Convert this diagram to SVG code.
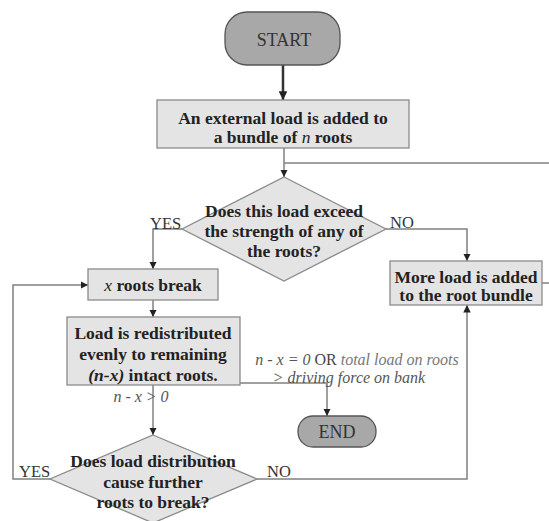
<svg xmlns="http://www.w3.org/2000/svg" width="549" height="521" viewBox="0 0 549 521">
<style>
.box{fill:#e4e4e4;stroke:#8a8a8a;stroke-width:1.3}
.term{fill:#a8a8a8;stroke:#555;stroke-width:1.3}
.t{font-family:"Liberation Serif",serif;font-size:17.5px;font-weight:bold;fill:#222;text-anchor:middle}
.tt{font-family:"Liberation Serif",serif;font-size:18px;fill:#333;text-anchor:middle}
.lbl{font-family:"Liberation Serif",serif;font-size:16.5px;fill:#333}
.cond{font-family:"Liberation Serif",serif;font-size:16px;font-style:italic;fill:#555}
.c{fill:none;stroke:#808080;stroke-width:1.5}
</style>
<defs>
<marker id="ah" viewBox="0 0 10 10" refX="10" refY="5" markerWidth="5" markerHeight="5" orient="auto" markerUnits="strokeWidth">
<path d="M0,0 L10,5 L0,10 z" fill="#222"/>
</marker>
<marker id="ahs" viewBox="0 0 10 10" refX="10" refY="5" markerWidth="3.5" markerHeight="3.5" orient="auto" markerUnits="strokeWidth">
<path d="M0,0 L10,5 L0,10 z" fill="#222"/>
</marker>
</defs>
<g id="connectors">
<line x1="283" y1="65" x2="283" y2="100" stroke="#333" stroke-width="2.5" marker-end="url(#ahs)"/>
<path class="c" d="M284,148 L284,177" marker-end="url(#ah)"/>
<path class="c" d="M284,163 L549,163"/>
<path class="c" d="M542,283 L549,283"/>
<path class="c" d="M182,229 L153,229 L153,269" marker-end="url(#ah)"/>
<path class="c" d="M386,229 L467,229 L467,261" marker-end="url(#ah)"/>
<path class="c" d="M153,300 L153,317" marker-end="url(#ah)"/>
<path class="c" d="M153,385 L153,435" marker-end="url(#ah)"/>
<path class="c" d="M240,383 L327,383 L327,416" marker-end="url(#ah)"/>
<path class="c" d="M50,479 L13,479 L13,285 L88,285" marker-end="url(#ah)"/>
<path class="c" d="M257,479 L467,479 L467,305" marker-end="url(#ah)"/>
</g>
<g id="start">
<rect class="term" x="225" y="12" width="115" height="53" rx="22" ry="22"/>
<text class="tt" x="284" y="46">START</text>
</g>
<g id="load-added">
<rect class="box" x="157" y="100" width="252" height="48"/>
<text class="t" x="283" y="124">An external load is added to</text>
<text class="t" x="283" y="143">a bundle of <tspan font-style="italic" font-weight="normal">n</tspan> roots</text>
</g>
<g id="decision-exceed">
<polygon class="box" points="284,177 386,229 284,281 182,229"/>
<text class="t" x="284" y="217">Does this load exceed</text>
<text class="t" x="284" y="237">the strength of any of</text>
<text class="t" x="284" y="257">the roots?</text>
</g>
<g id="x-roots-break">
<rect class="box" x="88" y="269" width="130" height="31"/>
<text class="t" x="153" y="291"><tspan font-style="italic" font-weight="normal">x</tspan> roots break</text>
</g>
<g id="more-load">
<rect class="box" x="390" y="261" width="152" height="44"/>
<text class="t" x="466" y="283">More load is added</text>
<text class="t" x="466" y="301">to the root bundle</text>
</g>
<g id="redistributed">
<rect class="box" x="67" y="317" width="173" height="68"/>
<text class="t" x="153" y="339">Load is redistributed</text>
<text class="t" x="153" y="360">evenly to remaining</text>
<text class="t" x="153" y="381"><tspan font-style="italic">(n-x)</tspan> intact roots.</text>
</g>
<g id="end">
<rect class="term" x="298" y="416" width="78" height="31" rx="15" ry="15"/>
<text class="tt" x="337" y="438">END</text>
</g>
<g id="decision-further">
<polygon class="box" points="153,435 257,479 153,523 50,479"/>
<text class="t" x="153" y="467">Does load distribution</text>
<text class="t" x="153" y="488">cause further</text>
<text class="t" x="153" y="508">roots to break?</text>
</g>
<g id="labels">
<text class="lbl" x="150" y="229">YES</text>
<text class="lbl" x="390" y="228">NO</text>
<text class="lbl" x="19" y="477">YES</text>
<text class="lbl" x="267" y="477">NO</text>
<text class="cond" x="141" y="402" text-anchor="middle">n - x &gt; 0</text>
<text class="cond" x="357" y="365" text-anchor="middle">n - x = 0 <tspan font-style="normal" fill="#444">OR</tspan> <tspan fill="#777">total load on roots</tspan></text>
<text class="cond" x="349" y="383" text-anchor="middle" fill="#777">&gt; driving force on bank</text>
</g>
</svg>
